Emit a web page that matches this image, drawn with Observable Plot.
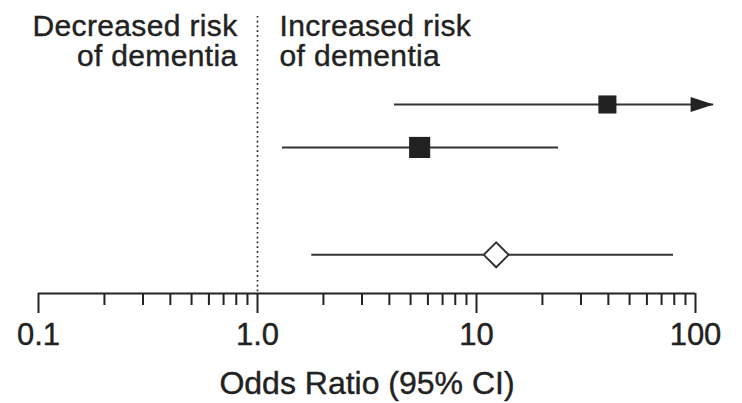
<!DOCTYPE html>
<html><head><meta charset="utf-8">
<script src="https://cdn.jsdelivr.net/npm/d3@7"></script>
<script src="https://cdn.jsdelivr.net/npm/@observablehq/plot@0.6"></script>
<style>body{margin:0;background:#fff} svg{display:block} svg text{stroke:#222;stroke-width:0.4px} .hdr{letter-spacing:0.35px}</style>
</head><body><div id="chart"></div>
<script>
// ---- data ----
const rowPos = [1, 2, 4.5];                 // row slots (third row is the pooled estimate)
const markers = ["square", "square", "diamond"];
const estimates = [39.6, 5.5, 12.3];
const lowers = [4.22, 1.30, 1.77];
const uppers = [null, 23.7, 79.4];          // null = upper limit runs beyond the axis (arrow)
const arrowTip = 121;
const majorTicks = [0.1, 1, 10, 100];
const majorLabels = ["0.1", "1.0", "10", "100"];
const minorTicks = [0.2, 0.3, 0.4, 0.5, 0.6, 0.7, 0.8, 0.9,
                    2, 3, 4, 5, 6, 7, 8, 9,
                    20, 30, 40, 50, 60, 70, 80, 90];
const leftHeader = "Decreased risk\nof dementia";
const rightHeader = "Increased risk\nof dementia";
const xLabel = "Odds Ratio (95% CI)";

const rows = rowPos.map((p, i) => ({pos: p, marker: markers[i], est: estimates[i], lo: lowers[i], hi: uppers[i]}));
const yTop = -1.42, yBottom = 5.4;
const ink = "#222";

const triangle = {
  draw(ctx, l, r) {
    ctx.moveTo(0, -l);
    ctx.lineTo(r, 0);
    ctx.lineTo(-r, 0);
    ctx.closePath();
  }
};

const chart = Plot.plot({
  width: 742,
  height: 403,
  marginLeft: 38,
  marginRight: 47,
  marginTop: 0,
  marginBottom: 110,
  style: {fontFamily: "'Liberation Sans', Arial, Helvetica, sans-serif", fontSize: "31px", color: ink, background: "#fff"},
  x: {type: "log", domain: [0.1, 100], axis: null},
  y: {domain: [yTop, yBottom], reverse: true, axis: null},
  marks: [
    Plot.ruleX([1], {y1: -1.05, y2: yBottom, stroke: ink, strokeWidth: 1.7, strokeDasharray: "1.7,3.1"}),
    Plot.ruleY(rows.filter(d => d.hi != null), {y: "pos", x1: "lo", x2: "hi", stroke: "#333", strokeWidth: 2}),
    Plot.ruleY(rows.filter(d => d.hi == null), {y: "pos", x1: "lo", x2: () => arrowTip, stroke: "#333", strokeWidth: 2}),
    Plot.vector(rows.filter(d => d.hi == null), {x: () => arrowTip, y: "pos", length: 23, rotate: 90, anchor: "end", shape: triangle, r: 7.5, fill: ink, stroke: "none"}),
    Plot.dot(rows.filter((d, i) => i === 0), {x: "est", y: "pos", symbol: "square", r: 10.2, fill: ink, stroke: "none"}),
    Plot.dot(rows.filter((d, i) => i === 1), {x: "est", y: "pos", symbol: "square", r: 11.9, fill: ink, stroke: "none"}),
    Plot.dot(rows.filter(d => d.marker === "diamond"), {x: "est", y: "pos", symbol: "diamond2", r: 11.2, fill: "white", stroke: "#333", strokeWidth: 2}),
    Plot.ruleY([yBottom], {stroke: ink, strokeWidth: 2}),
    Plot.axisX(majorTicks, {tickSize: 20, tickPadding: 9, strokeWidth: 2, tickFormat: d => majorLabels[majorTicks.indexOf(d)], label: null, fontSize: 31}),
    Plot.axisX(minorTicks, {tickSize: 12, strokeWidth: 2, tickFormat: () => "", label: null}),
    Plot.text([leftHeader], {x: () => 1, frameAnchor: "top", textAnchor: "end", lineAnchor: "top", dx: -20, dy: 14, lineHeight: 1, fontSize: 30, className: "hdr"}),
    Plot.text([rightHeader], {x: () => 1, frameAnchor: "top", textAnchor: "start", lineAnchor: "top", dx: 22, dy: 14, lineHeight: 1, fontSize: 30, className: "hdr"}),
    Plot.text([xLabel], {frameAnchor: "bottom", lineAnchor: "bottom", dy: 100, fontSize: 32})
  ]
});
document.getElementById("chart").append(chart);
</script>
</body></html>
